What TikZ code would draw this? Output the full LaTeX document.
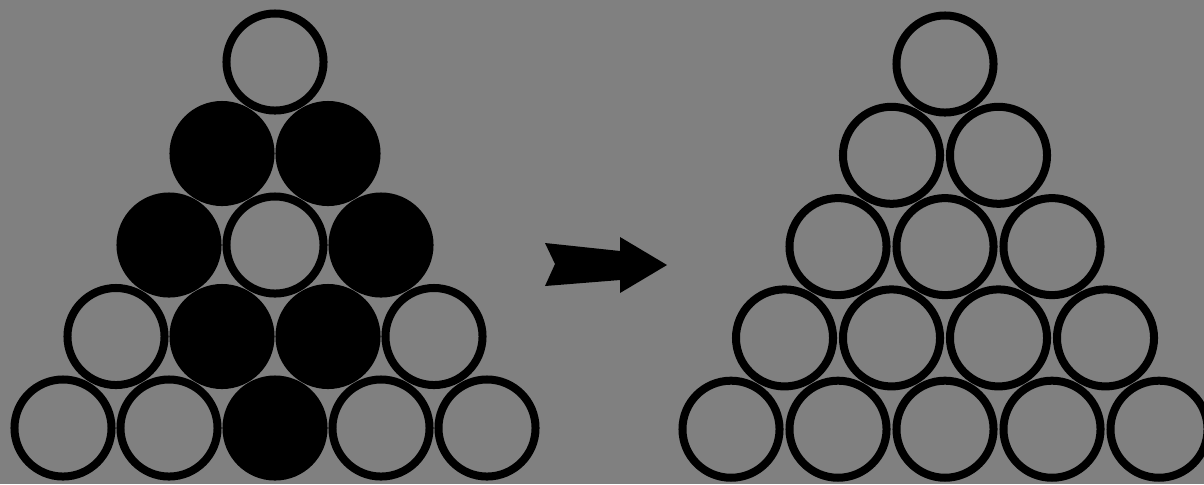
\documentclass[tikz,border=0pt]{standalone}
\begin{document}
\begin{tikzpicture}[x=0.01cm,y=-0.01cm,
  ring/.style={circle,draw=black,line width=0.08cm,minimum size=0.97cm,inner sep=0pt,fill=bgc},
  solid ring/.style={ring,fill=black}]
\definecolor{bgc}{RGB}{128,128,128}
\fill[bgc] (0,0) rectangle (1204,484);
\useasboundingbox (0,0) rectangle (1204,484);
% left triangle
\foreach \r/\j/\f in {0/0/0, 1/0/1,1/1/1, 2/0/1,2/1/0,2/2/1, 3/0/0,3/1/1,3/2/1,3/3/0, 4/0/0,4/1/0,4/2/1,4/3/0,4/4/0}{
  \ifnum\f=1
    \node[solid ring] (L\r\j) at ({275+(\j-\r/2)*106},{62+91.5*\r}) {};
  \else
    \node[ring] (L\r\j) at ({275+(\j-\r/2)*106},{62+91.5*\r}) {};
  \fi
}
% right triangle
\foreach \r in {0,...,4}{
  \foreach \j in {0,...,\r}{
    \node[ring] (R\r\j) at ({945+(\j-\r/2)*107},{64+91.3*\r}) {};
  }
}
% arrow
\fill[black,line join=round] (545,243) -- (620,251) -- (620,237) -- (667,265) -- (620,293) -- (620,280) -- (545,286) -- (555,264) -- cycle;
\end{tikzpicture}
\end{document}
